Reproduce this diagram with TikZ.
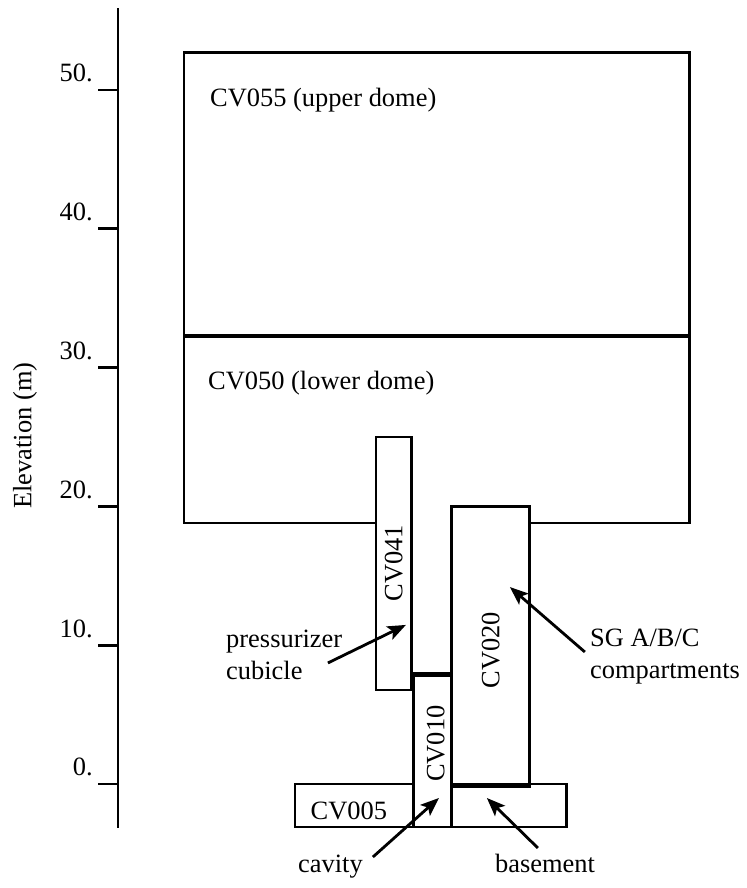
\documentclass[tikz,border=0pt]{standalone}
\usepackage{fontspec}
\setmainfont{Liberation Serif}
\usetikzlibrary{arrows.meta,positioning,calc}

\begin{document}
\begin{tikzpicture}[x=0.025cm,y=0.347cm,
    box/.style={draw,line width=2pt},
    lbl/.style={font=\fontsize{18.8}{22.8}\selectfont,inner sep=0pt},
    pointer/.style={line width=2pt,-{Stealth[length=4.6mm,width=3.6mm,inset=1mm]}}]
	\useasboundingbox (0,-7.493) rectangle (747,56.484);
	% elevation axis
	\draw[line width=2pt] (118,-3.17) -- (118,55.9);
	\foreach \pos in {0,10,...,50}{
	    \draw[line width=2pt,shift={(0,\pos)}] (118,0) -- (98,0);
	    \node[lbl,anchor=base east] (tick\pos) at (93,\pos+0.58) {\pos.};}
	\node[lbl,rotate=90] (elev) at (25,25.1) {Elevation (m)};
	% domes
	\draw[box] (184,32.3) rectangle (690,52.7);
	\draw[box] (376,18.8) -- (184,18.8) -- (184,32.3) (690,32.3) -- (690,18.8) -- (530,18.8);
	\draw[line width=2.8pt] (184,32.3) -- (690,32.3);
	% lower compartments
	\draw[box] (376,6.77) rectangle (412,25.0);
	\draw[box] (412,8.0) -- (452,8.0);
	\draw[box] (414,-3.1) rectangle (452,7.8);
	\draw[box] (452,-0.2) rectangle (530,20.0);
	\draw[box] (295,-3.1) rectangle (414,0);
	\draw[box] (452,-3.1) rectangle (567,0);
	% volume names
	\node[lbl,anchor=base west] (cv055) at (210,48.8) {CV055 (upper dome)};
	\node[lbl,anchor=base west] (cv050) at (208,28.4) {CV050 (lower dome)};
	\node[lbl,rotate=90] (cv041) at (394,15.9) {CV041};
	\node[lbl,rotate=90] (cv020) at (491,9.65) {CV020};
	\node[lbl,rotate=90] (cv010) at (436,2.9) {CV010};
	\node[lbl] (cv005) at (349,-1.95) {CV005};
	% callouts
	\node[lbl,align=left,anchor=west] (przlbl) at (226,9.29) {pressurizer\\cubicle};
	\node[lbl,align=left,anchor=west] (sglbl) at (590,9.15) {SG A/B/C\\compartments};
	\node[lbl,anchor=base west] (cavlbl) at (298,-6.41) {cavity};
	\node[lbl,anchor=base west] (baslbl) at (495,-6.41) {basement};
	\coordinate (przfrom) at (328,8.72);  \coordinate (przto) at (406,11.46);
	\coordinate (sgfrom) at (585,9.51);   \coordinate (sgto) at (510,14.19);
	\coordinate (cavfrom) at (373,-5.26); \coordinate (cavto) at (439,-1.01);
	\coordinate (basfrom) at (538,-4.61); \coordinate (basto) at (487,-1.01);
	\draw[pointer] (przfrom) -- (przto);
	\draw[pointer] (sgfrom) -- (sgto);
	\draw[pointer] (cavfrom) -- (cavto);
	\draw[pointer] (basfrom) -- (basto);
\end{tikzpicture}
\end{document}
